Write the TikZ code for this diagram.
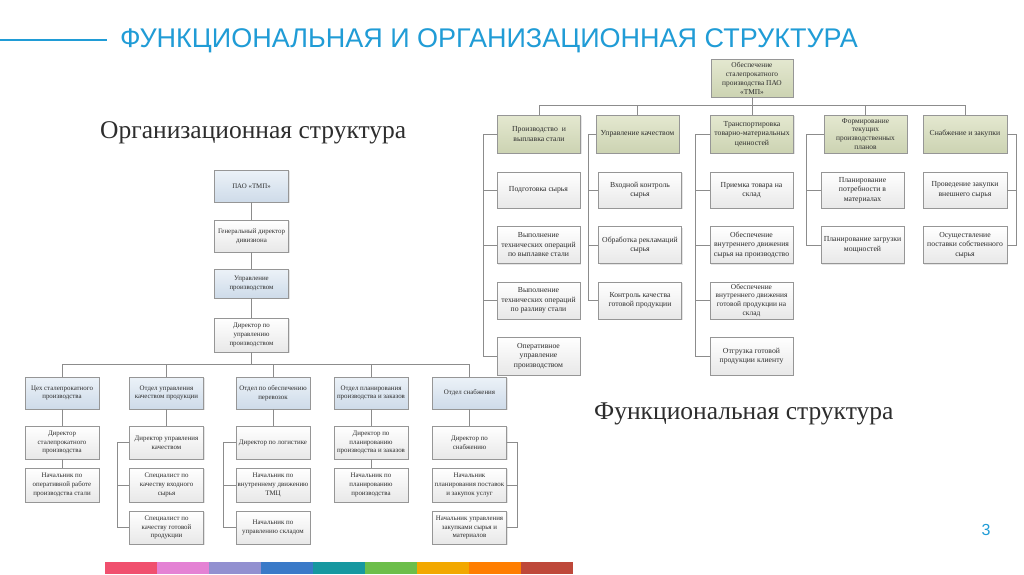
\documentclass[tikz,border=0pt]{standalone}
\usepackage{fontspec}
\setmainfont{Liberation Serif}
\newfontfamily\titlefont{Liberation Sans}
\usetikzlibrary{shadows}
\definecolor{tblue}{RGB}{32,156,214}
\definecolor{bordc}{RGB}{150,150,150}
\definecolor{linec}{RGB}{140,140,140}
\definecolor{txtc}{RGB}{45,45,45}
\definecolor{bluetop}{RGB}{236,242,248}
\definecolor{bluebot}{RGB}{206,219,233}
\definecolor{greentop}{RGB}{228,232,208}
\definecolor{greenbot}{RGB}{204,211,178}
\definecolor{whitebot}{RGB}{232,232,232}
\definecolor{c1}{RGB}{240,80,110}
\definecolor{c2}{RGB}{228,130,212}
\definecolor{c3}{RGB}{146,144,208}
\definecolor{c4}{RGB}{58,122,200}
\definecolor{c5}{RGB}{22,152,160}
\definecolor{c6}{RGB}{108,190,74}
\definecolor{c7}{RGB}{242,168,0}
\definecolor{c8}{RGB}{255,126,0}
\definecolor{c9}{RGB}{190,72,58}
\tikzset{
  base/.style={draw=bordc, line width=0.6pt, rectangle, align=center, inner sep=0pt,
    text=txtc, drop shadow={shadow xshift=1pt, shadow yshift=-1pt, opacity=0.2}},
  lbox/.style={base, font=\fontsize{6.9}{8.7}\selectfont, minimum width=74pt, minimum height=33pt},
  rbox/.style={base, font=\fontsize{7.7}{9.5}\selectfont, minimum width=83pt, minimum height=37pt},
  wfill/.style={top color=white, bottom color=whitebot},
  bfill/.style={top color=bluetop, bottom color=bluebot},
  gfill/.style={top color=greentop, bottom color=greenbot},
  conn/.style={draw=linec, line width=0.7pt},
}
\begin{document}
\begin{tikzpicture}[x=1pt,y=-1pt]
\useasboundingbox (0,0) rectangle (1024,574);
\fill[white] (0,0) rectangle (1024,574);

% title
\draw[tblue, line width=2pt] (0,40) -- (107,40);
\node[font=\titlefont\fontsize{27}{30}\selectfont, text=tblue, anchor=west, inner sep=0] (title) at (120,41) {ФУНКЦИОНАЛЬНАЯ И ОРГАНИЗАЦИОННАЯ СТРУКТУРА};

\node[font=\fontsize{25.5}{28}\selectfont, text=txtc, anchor=west, inner sep=0] (orgt) at (100,133) {Организационная структура};
\node[font=\fontsize{25.5}{28}\selectfont, text=txtc, anchor=west, inner sep=0] (funt) at (594,414) {Функциональная структура};
\node[font=\titlefont\fontsize{16}{18}\selectfont, text=tblue, inner sep=0] (pg) at (986,530) {3};

% colour bar
\foreach \c [count=\i from 0] in {c1,c2,c3,c4,c5,c6,c7,c8,c9}
  \fill[\c] (105+\i*52,562) rectangle (157+\i*52,574);

% ===== left organisational chart =====
\node[lbox,bfill, minimum height=32pt] (L1) at (251.5,186) {ПАО «ТМП»};
\node[lbox,wfill, minimum height=32pt] (L2) at (251.5,236) {Генеральный директор\\дивизиона};
\node[lbox,bfill, minimum height=29pt] (L3) at (251.5,283.5) {Управление\\производством};
\node[lbox,wfill, minimum height=34pt] (L4) at (251.5,335) {Директор по\\управлению\\производством};
\draw[conn] (L1.south) -- (L2.north);
\draw[conn] (L2.south) -- (L3.north);
\draw[conn] (L3.south) -- (L4.north);

\node[lbox,bfill, minimum height=32pt] (D1) at (62,393) {Цех сталепрокатного\\производства};
\node[lbox,bfill, minimum height=32pt] (D2) at (166.5,393) {Отдел управления\\качеством продукции};
\node[lbox,bfill, minimum height=32pt] (D3) at (273,393) {Отдел по обеспечению\\перевозок};
\node[lbox,bfill, minimum height=32pt] (D4) at (371,393) {Отдел планирования\\производства и заказов};
\node[lbox,bfill, minimum height=32pt] (D5) at (469.5,393) {Отдел снабжения};
\foreach \d in {D1,D2,D3,D4,D5}
  \draw[conn] (\d.north) -- ++(0,-12) -| (L4.south);

% column 1
\node[lbox,wfill] (A1) at (62,442.5) {Директор\\сталепрокатного\\производства};
\node[lbox,wfill, minimum height=34pt] (A2) at (62,485) {Начальник по\\оперативной работе\\производства стали};
\draw[conn] (D1.south) -- (A1.north);
\draw[conn] (A1.south) -- (A2.north);
% column 2
\node[lbox,wfill] (B1) at (166.5,442.5) {Директор управления\\качеством};
\node[lbox,wfill, minimum height=34pt] (B2) at (166.5,485) {Специалист по\\качеству входного\\сырья};
\node[lbox,wfill] (B3) at (166.5,527.5) {Специалист по\\качеству готовой\\продукции};
\draw[conn] (D2.south) -- (B1.north);
\draw[conn] (B1.west) -- ++(-12,0) |- (B3.west);
\draw[conn] (B1.west) -- ++(-12,0) |- (B2.west);
% column 3
\node[lbox,wfill] (E1) at (273,442.5) {Директор по логистике};
\node[lbox,wfill, minimum height=34pt] (E2) at (273,485) {Начальник по\\внутреннему движению\\ТМЦ};
\node[lbox,wfill] (E3) at (273,527.5) {Начальник по\\управлению складом};
\draw[conn] (D3.south) -- (E1.north);
\draw[conn] (E1.west) -- ++(-12,0) |- (E3.west);
\draw[conn] (E1.west) -- ++(-12,0) |- (E2.west);
% column 4
\node[lbox,wfill] (G1) at (371,442.5) {Директор по\\планированию\\производства и заказов};
\node[lbox,wfill, minimum height=34pt] (G2) at (371,485) {Начальник по\\планированию\\производства};
\draw[conn] (D4.south) -- (G1.north);
\draw[conn] (G1.south) -- (G2.north);
% column 5
\node[lbox,wfill] (H1) at (469.5,442.5) {Директор по\\снабжению};
\node[lbox,wfill, minimum height=34pt] (H2) at (469.5,485) {Начальник\\планирования поставок\\и закупок услуг};
\node[lbox,wfill] (H3) at (469.5,527.5) {Начальник управления\\закупками сырья и\\материалов};
\draw[conn] (D5.south) -- (H1.north);
\draw[conn] (H1.east) -- ++(11,0) |- (H3.east);
\draw[conn] (H1.east) -- ++(11,0) |- (H2.east);

% ===== right functional chart =====
\node[rbox,gfill, minimum width=82pt, minimum height=38pt, font=\fontsize{7.4}{8.9}\selectfont] (R0) at (752,78) {Обеспечение\\сталепрокатного\\производства ПАО\\«ТМП»};

\node[rbox,gfill, minimum height=38pt] (F1) at (539,134) {Производство~ и\\выплавка стали};
\node[rbox,gfill, minimum height=38pt] (F2) at (637.5,134) {Управление качеством};
\node[rbox,gfill, minimum height=38pt] (F3) at (752,134) {Транспортировка\\товарно-материальных\\ценностей};
\node[rbox,gfill, minimum height=38pt, font=\fontsize{7.4}{8.9}\selectfont] (F4) at (865.5,134) {Формирование\\текущих\\производственных\\планов};
\node[rbox,gfill, minimum height=38pt, minimum width=84pt] (F5) at (965,134) {Снабжение и закупки};
\foreach \f in {F1,F2,F3,F4,F5}
  \draw[conn] (\f.north) -- ++(0,-9) -| (R0.south);

% col 1
\node[rbox,wfill, minimum height=36pt] (P1) at (538.5,190) {Подготовка сырья};
\node[rbox,wfill] (P2) at (538.5,245) {Выполнение\\технических операций\\по выплавке стали};
\node[rbox,wfill] (P3) at (538.5,300.5) {Выполнение\\технических операций\\по разливу стали};
\node[rbox,wfill, minimum height=38pt] (P4) at (538.5,356) {Оперативное\\управление\\производством};
\foreach \p in {P1,P2,P3,P4}
  \draw[conn] (F1.west) -- ++(-14,0) |- (\p.west);
% col 2
\node[rbox,wfill, minimum height=36pt] (Q1) at (640,190) {Входной контроль\\сырья};
\node[rbox,wfill] (Q2) at (640,245) {Обработка рекламаций\\сырья};
\node[rbox,wfill] (Q3) at (640,300.5) {Контроль качества\\готовой продукции};
\foreach \p in {Q1,Q2,Q3}
  \draw[conn] (F2.west) -- ++(-7,0) |- (\p.west);
% col 3
\node[rbox,wfill, minimum height=36pt] (S1) at (751.5,190) {Приемка товара на\\склад};
\node[rbox,wfill] (S2) at (751.5,245) {Обеспечение\\внутреннего движения\\сырья на производство};
\node[rbox,wfill, font=\fontsize{7.4}{8.9}\selectfont] (S3) at (751.5,300.5) {Обеспечение\\внутреннего движения\\готовой продукции на\\склад};
\node[rbox,wfill, minimum height=38pt] (S4) at (751.5,356) {Отгрузка готовой\\продукции клиенту};
\foreach \p in {S1,S2,S3,S4}
  \draw[conn] (F3.west) -- ++(-15,0) |- (\p.west);
% col 4
\node[rbox,wfill, minimum height=36pt] (T1) at (862.5,190) {Планирование\\потребности в\\материалах};
\node[rbox,wfill] (T2) at (862.5,245) {Планирование загрузки\\мощностей};
\foreach \p in {T1,T2}
  \draw[conn] (F4.west) -- ++(-17,0) |- (\p.west);
% col 5
\node[rbox,wfill, minimum height=36pt, minimum width=84pt] (U1) at (965,190) {Проведение закупки\\внешнего сырья};
\node[rbox,wfill, minimum width=84pt] (U2) at (965,245) {Осуществление\\поставки собственного\\сырья};
\foreach \p in {U1,U2}
  \draw[conn] (F5.east) -- ++(9,0) |- (\p.east);
\end{tikzpicture}
\end{document}
